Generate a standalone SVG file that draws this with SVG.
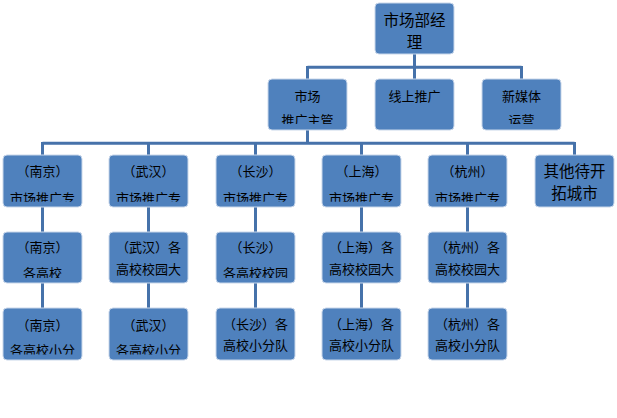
<svg xmlns="http://www.w3.org/2000/svg" width="617" height="418" viewBox="0 0 617 418">
<style>
.box{fill:#4F81BD;stroke:#C9D7EA;stroke-width:1}
.t{font-family:"Noto Sans CJK SC","Noto Sans",sans-serif;font-size:13px;fill:#000;text-anchor:middle}
.big{font-size:15.5px}
.conn{fill:none;stroke:#4672AA;stroke-width:3}
</style>
<defs>
<clipPath id="c2"><rect x="0" y="79" width="617" height="45"/></clipPath>
<clipPath id="c3"><rect x="0" y="155" width="617" height="46.7"/></clipPath>
<clipPath id="c4"><rect x="0" y="232" width="617" height="46"/></clipPath>
<clipPath id="c5"><rect x="0" y="308" width="617" height="46.5"/></clipPath>
</defs>
<rect width="617" height="418" fill="#fff"/>
<g id="connectors">
<path class="conn" d="M414.5 54V67.3M307.5 67.3H521.5M307.5 66V79M414.5 67V79M521.5 66V79"/>
<path class="conn" d="M307.5 130V143.3M42.5 143.3H574.5M42.5 142V155M148.5 142V155M255.5 142V155M361.5 142V155M467.5 142V155M574.5 142V155"/>
<path class="conn" d="M42.5 207V232M148.5 207V232M255.5 207V232M361.5 207V232M467.5 207V232"/>
<path class="conn" d="M42.5 283V308M148.5 283V308M255.5 283V308M361.5 283V308M467.5 283V308"/>
</g>
<g id="n-manager"><rect class="box" x="375" y="3" width="79" height="51" rx="4"/><text class="t big" x="414.5" y="25.8">市场部经</text><text class="t big" x="414.5" y="48.4">理</text></g>
<g id="n-market"><rect class="box" x="268" y="79" width="79" height="51" rx="4"/><text class="t" x="307.5" y="100.5">市场</text><text class="t" x="307.5" y="125" clip-path="url(#c2)">推广主管</text></g>
<g id="n-online"><rect class="box" x="375" y="79" width="79" height="51" rx="4"/><text class="t" x="414.5" y="100.5">线上推广</text></g>
<g id="n-media"><rect class="box" x="482" y="79" width="79" height="51" rx="4"/><text class="t" x="521.5" y="100.5">新媒体</text><text class="t" x="521.5" y="125" clip-path="url(#c2)">运营</text></g>

<g id="n-nj1"><rect class="box" x="3" y="155" width="79" height="52" rx="4"/><text class="t" x="42.5" y="176">（南京）</text><text class="t" x="42.5" y="202.7" clip-path="url(#c3)">市场推广专</text></g>
<g id="n-wh1"><rect class="box" x="109" y="155" width="79" height="52" rx="4"/><text class="t" x="148.5" y="176">（武汉）</text><text class="t" x="148.5" y="202.7" clip-path="url(#c3)">市场推广专</text></g>
<g id="n-cs1"><rect class="box" x="216" y="155" width="79" height="52" rx="4"/><text class="t" x="255.5" y="176">（长沙）</text><text class="t" x="255.5" y="202.7" clip-path="url(#c3)">市场推广专</text></g>
<g id="n-sh1"><rect class="box" x="322" y="155" width="79" height="52" rx="4"/><text class="t" x="361.5" y="176">（上海）</text><text class="t" x="361.5" y="202.7" clip-path="url(#c3)">市场推广专</text></g>
<g id="n-hz1"><rect class="box" x="428" y="155" width="79" height="52" rx="4"/><text class="t" x="467.5" y="176">（杭州）</text><text class="t" x="467.5" y="202.7" clip-path="url(#c3)">市场推广专</text></g>
<g id="n-other"><rect class="box" x="535" y="155" width="79" height="52" rx="4"/><text class="t big" x="574.5" y="176.8">其他待开</text><text class="t big" x="574.5" y="199.4">拓城市</text></g>

<g id="n-nj2"><rect class="box" x="3" y="232" width="79" height="51" rx="4"/><text class="t" x="42.5" y="252">（南京）</text><text class="t" x="42.5" y="278.3" clip-path="url(#c4)">各高校</text></g>
<g id="n-wh2"><rect class="box" x="109" y="232" width="79" height="51" rx="4"/><text class="t" x="148.5" y="252">（武汉）各</text><text class="t" x="148.5" y="274">高校校园大</text></g>
<g id="n-cs2"><rect class="box" x="216" y="232" width="79" height="51" rx="4"/><text class="t" x="255.5" y="252">（长沙）</text><text class="t" x="255.5" y="278.3" clip-path="url(#c4)">各高校校园</text></g>
<g id="n-sh2"><rect class="box" x="322" y="232" width="79" height="51" rx="4"/><text class="t" x="361.5" y="252">（上海）各</text><text class="t" x="361.5" y="274">高校校园大</text></g>
<g id="n-hz2"><rect class="box" x="428" y="232" width="79" height="51" rx="4"/><text class="t" x="467.5" y="252">（杭州）各</text><text class="t" x="467.5" y="274">高校校园大</text></g>

<g id="n-nj3"><rect class="box" x="3" y="308" width="79" height="52" rx="4"/><text class="t" x="42.5" y="330">（南京）</text><text class="t" x="42.5" y="354.5" clip-path="url(#c5)">各高校小分</text></g>
<g id="n-wh3"><rect class="box" x="109" y="308" width="79" height="52" rx="4"/><text class="t" x="148.5" y="330">（武汉）</text><text class="t" x="148.5" y="354.5" clip-path="url(#c5)">各高校小分</text></g>
<g id="n-cs3"><rect class="box" x="216" y="308" width="79" height="52" rx="4"/><text class="t" x="255.5" y="329.3">（长沙）各</text><text class="t" x="255.5" y="349.5">高校小分队</text></g>
<g id="n-sh3"><rect class="box" x="322" y="308" width="79" height="52" rx="4"/><text class="t" x="361.5" y="329.3">（上海）各</text><text class="t" x="361.5" y="349.5">高校小分队</text></g>
<g id="n-hz3"><rect class="box" x="428" y="308" width="79" height="52" rx="4"/><text class="t" x="467.5" y="329.3">（杭州）各</text><text class="t" x="467.5" y="349.5">高校小分队</text></g>
</svg>
